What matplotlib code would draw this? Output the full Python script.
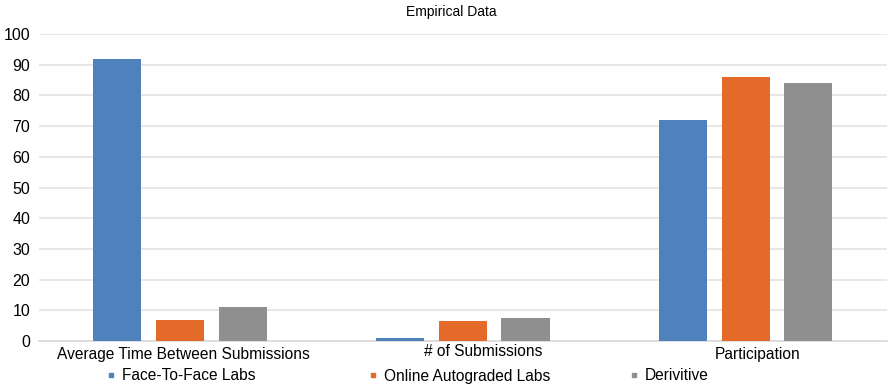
import matplotlib
matplotlib.use("Agg")
import matplotlib.pyplot as plt
from matplotlib.lines import Line2D
import matplotlib.transforms as mtransforms
import numpy as np

plt.rcParams['font.family'] = ['Liberation Sans', 'DejaVu Sans']

categories = ["Average Time Between Submissions", "# of Submissions", "Participation"]
series_names = ["Face-To-Face Labs", "Online Autograded Labs", "Derivitive"]
face_to_face = [92, 1, 72]
online_autograded = [7, 6.5, 86]
derivitive = [11, 7.4, 84]
yticks = [0, 10, 20, 30, 40, 50, 60, 70, 80, 90, 100]

colors = ["#4f81bd", "#e46a29", "#8f8f8f"]
W, H = 889, 388
fig = plt.figure(figsize=(W/100, H/100), dpi=100)
ax = fig.add_axes([38.5/W, 47/H, (887-38.5)/W, (341-34)/H])

x = np.arange(len(categories))
width = 0.17
pitch = 0.222
for i, (vals, c) in enumerate(zip([face_to_face, online_autograded, derivitive], colors)):
    ax.bar(x + (i-1)*pitch, vals, width, color=c, zorder=3)

ax.set_xlim(-0.5, 2.5)
ax.set_ylim(0, 100)
ax.set_yticks(yticks)
ax.set_yticklabels([str(t) for t in yticks], fontsize=11.5)
ax.tick_params(axis='y', length=0, pad=6)
ax.set_xticks(x)
ax.set_xticklabels([])
ax.tick_params(axis='x', length=0)
# category labels (placed as in the reference, slightly offset from group centres)
trans = mtransforms.blended_transform_factory(ax.transData, ax.transAxes)
offsets_px = [(3, 14), (20, 10), (12, 14)]
for xi, lab, (dx, dy) in zip(x, categories, offsets_px):
    ax.text(xi, 0, lab, transform=trans + mtransforms.ScaledTranslation(dx/100, -dy/100, fig.dpi_scale_trans),
            ha="center", va="center", fontsize=11.2)

ax.grid(axis='y', color="#e3e3e3", linewidth=1.2, zorder=0)
for s in ["top", "right", "left"]:
    ax.spines[s].set_visible(False)
ax.spines["bottom"].set_color("#d9d9d9")
ax.spines["bottom"].set_linewidth(1.2)

fig.text(451/W, 1 - 12/H, "Empirical Data", ha="center", va="center", fontsize=10)

marker_x = [115, 377, 638]
for name, c, mx in zip(series_names, colors, marker_x):
    h = Line2D([], [], marker='s', linestyle='none', markersize=3.5, color=c)
    fig.legend([h], [name], loc="center left", bbox_to_anchor=((mx - 12)/W, 1 - 376/H),
               frameon=False, fontsize=11.2, handletextpad=0.2, handlelength=1.0,
               borderaxespad=0, borderpad=0)

fig.savefig("out.png", dpi=100)
